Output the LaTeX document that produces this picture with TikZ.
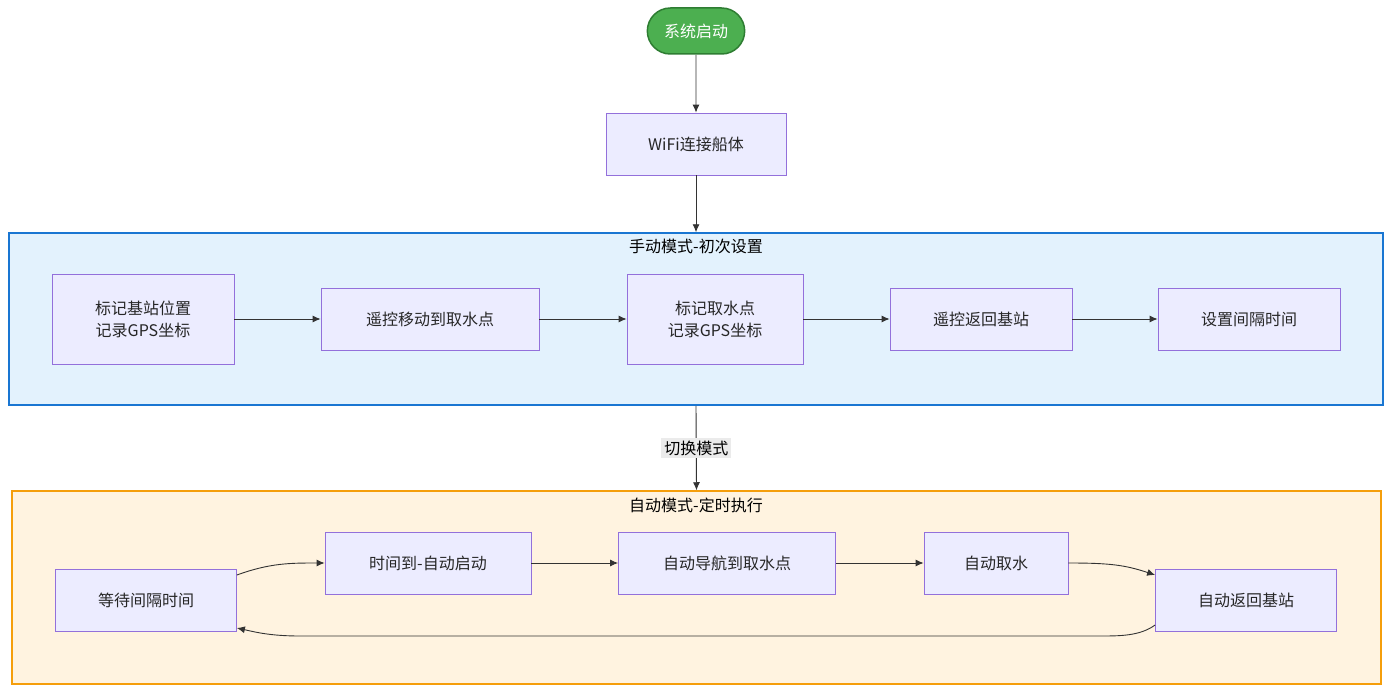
\documentclass[tikz,border=0pt]{standalone}
\usepackage{fontspec}
\setmainfont{Noto Sans CJK SC}
\usetikzlibrary{arrows.meta,shapes.misc}
\definecolor{boxfill}{HTML}{ECECFF}
\definecolor{boxline}{HTML}{9370DB}
\definecolor{bluefill}{HTML}{E3F2FD}
\definecolor{blueline}{HTML}{1976D2}
\definecolor{orfill}{HTML}{FFF3E0}
\definecolor{orline}{HTML}{F59E0B}
\definecolor{gfill}{HTML}{4CAF50}
\definecolor{gline}{HTML}{2E7D32}
\tikzset{
 bx/.style={draw=boxline,fill=boxfill,line width=0.8pt,align=center,font=\fontsize{16}{22}\selectfont,text=black!85,inner sep=0pt},
 ar/.style={-{Latex[length=8pt,width=7pt]},line width=0.9pt,draw=black!80},
 lf/.style={font=\fontsize{16}{20}\selectfont},
}
\begin{document}
\begin{tikzpicture}[x=1pt,y=-1pt]
\useasboundingbox (0,0) rectangle (1393,693);
\node[draw=blueline,fill=bluefill,line width=1.5pt,minimum width=1374pt,minimum height=172pt,inner sep=0pt] (cA) at (696,319) {};
\node[lf] (tA) at (696,246) {手动模式-初次设置};
\node[draw=orline,fill=orfill,line width=1.5pt,minimum width=1369pt,minimum height=193pt,inner sep=0pt] (cB) at (696.5,587.5) {};
\node[lf] (tB) at (696,505) {自动模式-定时执行};
\node[rounded rectangle,draw=gline,fill=gfill,line width=1.5pt,text=white,minimum width=104pt,minimum height=46pt,lf] (s) at (696,31) {系统启动};
\node[bx,minimum width=180pt,minimum height=62pt] (w) at (696,144) {WiFi连接船体};
\node[bx,minimum width=182pt,minimum height=90pt] (b1) at (143,319) {标记基站位置\\记录GPS坐标};
\node[bx,minimum width=218pt,minimum height=62pt] (b2) at (430,319) {遥控移动到取水点};
\node[bx,minimum width=176pt,minimum height=90pt] (b3) at (715,319) {标记取水点\\记录GPS坐标};
\node[bx,minimum width=182pt,minimum height=62pt] (b4) at (981,319) {遥控返回基站};
\node[bx,minimum width=182pt,minimum height=62pt] (b5) at (1249,319) {设置间隔时间};
\node[bx,minimum width=181pt,minimum height=62pt] (c1) at (146,600) {等待间隔时间};
\node[bx,minimum width=206pt,minimum height=62pt] (c2) at (428,563) {时间到-自动启动};
\node[bx,minimum width=217pt,minimum height=62pt] (c3) at (727,563) {自动导航到取水点};
\node[bx,minimum width=144pt,minimum height=62pt] (c4) at (996,563) {自动取水};
\node[bx,minimum width=181pt,minimum height=62pt] (c5) at (1246,600) {自动返回基站};
\draw[ar] (s) -- (w);
\draw[ar] (w) -- (cA.north);
\draw[ar] (b1) -- (b2);
\draw[ar] (b2) -- (b3);
\draw[ar] (b3) -- (b4);
\draw[ar] (b4) -- (b5);
\draw[ar] (cA.south) -- node[fill=black!8,inner sep=3pt,lf] (lab) {切换模式} (cB.north);
\draw[ar] (c2) -- (c3);
\draw[ar] (c3) -- (c4);
\draw[ar] (c1.east|-0,575) .. controls (270,563) and (290,563) .. (c2.west);
\draw[ar] (c4.east) .. controls (1110,563) and (1125,565) .. (c5.west|-0,575);
\draw[ar] (c5.west|-0,625) .. controls (1140,636) and (1120,636) .. (1100,636) -- (300,636) .. controls (270,636) and (255,632) .. (c1.east|-0,628);
\end{tikzpicture}
\end{document}
